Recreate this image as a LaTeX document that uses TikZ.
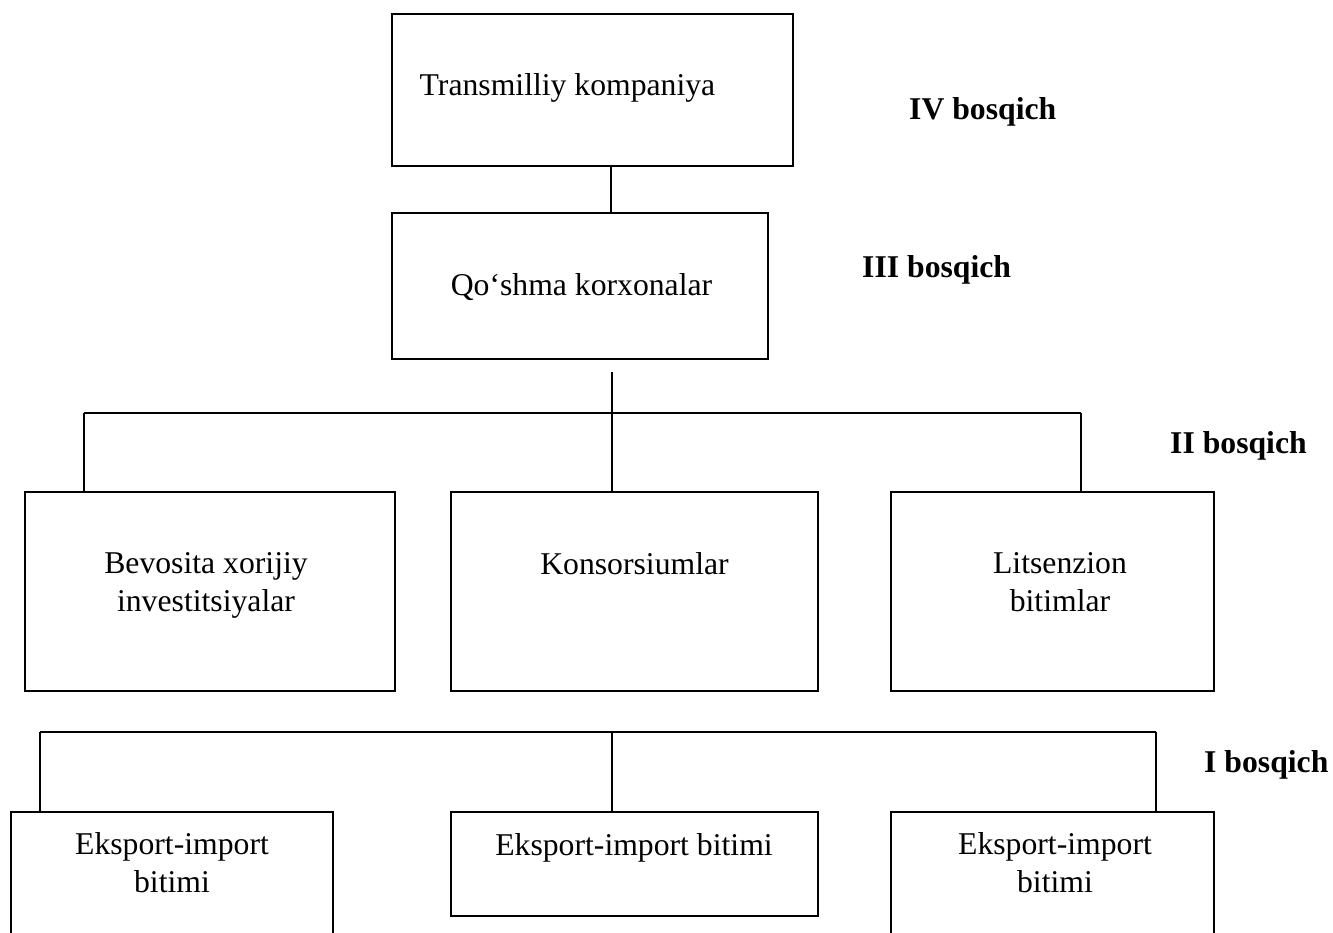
\documentclass[tikz,border=0pt]{standalone}
\usepackage{fontspec}
\setmainfont{Liberation Serif}
\begin{document}
\begin{tikzpicture}[x=1pt,y=-1pt,
  box/.style={draw,line width=2pt,inner sep=0pt,rectangle},
  txt/.style={anchor=base,inner sep=0pt,align=center,font=\fontsize{31.7}{38}\selectfont},
  stage/.style={anchor=base west,inner sep=0pt,font=\fontsize{31.7}{38}\selectfont\bfseries},
  conn/.style={line width=2pt}]
\useasboundingbox (0,0) rectangle (1333,932);
\clip (0,0) rectangle (1333,932);
% boxes
\node[box,minimum width=401pt,minimum height=152pt] (tk) at (592.5,90) {};
\node[box,minimum width=376pt,minimum height=146pt] (qk) at (580,286) {};
\node[box,minimum width=370pt,minimum height=199pt] (bx) at (210,591.5) {};
\node[box,minimum width=367pt,minimum height=199pt] (ks) at (634.5,591.5) {};
\node[box,minimum width=323pt,minimum height=199pt] (lb) at (1052.5,591.5) {};
\node[box,minimum width=322pt,minimum height=148pt] (e1) at (172,886) {};
\node[box,minimum width=367pt,minimum height=104pt] (e2) at (634.5,864) {};
\node[box,minimum width=323pt,minimum height=148pt] (e3) at (1052.5,886) {};
% texts (anchor base = baseline of the last line)
\node[txt] (ttk) at (567.5,95) {Transmilliy kompaniya};
\node[txt] (tqk) at (581.5,295) {Qo‘shma korxonalar};
\node[txt] (tbx) at (206,611) {Bevosita xorijiy\\investitsiyalar};
\node[txt] (tks) at (634.5,574) {Konsorsiumlar};
\node[txt] (tlb) at (1060,611) {Litsenzion\\bitimlar};
\node[txt] (te1) at (172,892) {Eksport-import\\bitimi};
\node[txt] (te2) at (634,855) {Eksport-import bitimi};
\node[txt] (te3) at (1055,892) {Eksport-import\\bitimi};
% stage labels
\node[stage] (s4) at (909,119) {IV bosqich};
\node[stage] (s3) at (862,277) {III bosqich};
\node[stage] (s2) at (1170,453) {II bosqich};
\node[stage] (s1) at (1204,772) {I bosqich};
% connectors
\coordinate (x1) at (611,0);
\coordinate (c3) at (612,372);
\coordinate (hL) at (84,413);
\coordinate (hR) at (1081,413);
\coordinate (gL) at (40,732);
\coordinate (gM) at (612,732);
\coordinate (gR) at (1156,732);
\draw[conn] (tk.south -| x1) -- (qk.north -| x1);
\draw[conn] (c3) -- (c3 |- ks.north);
\draw[conn] (hL) -- (hR);
\draw[conn] (hL) -- (hL |- bx.north);
\draw[conn] (hR) -- (hR |- lb.north);
\draw[conn] (gL) -- (gR);
\draw[conn] (gL) -- (gL |- e1.north);
\draw[conn] (gM) -- (gM |- e2.north);
\draw[conn] (gR) -- (gR |- e3.north);
\end{tikzpicture}
\end{document}
